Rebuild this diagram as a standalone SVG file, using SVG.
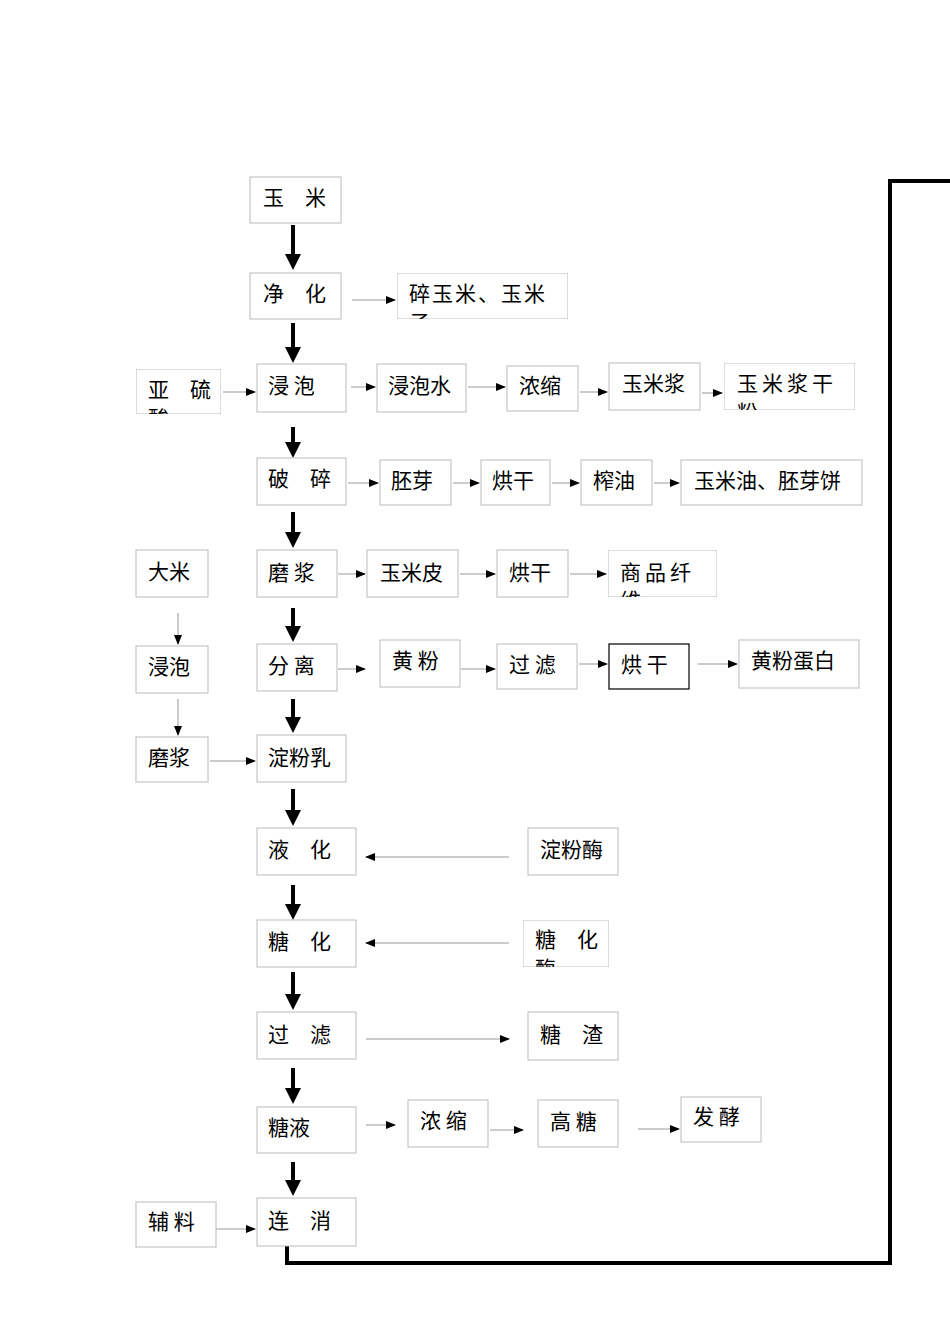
<svg xmlns="http://www.w3.org/2000/svg" width="950" height="1344" viewBox="0 0 950 1344">
<style>
rect.b{fill:#fff;stroke:#bbb;stroke-width:1}
text{font-family:"Noto Sans CJK SC","Liberation Serif",serif;font-size:21px;fill:#000}
.t{stroke:#000;stroke-width:4;fill:none}
.n{stroke:#999;stroke-width:1;fill:none}
</style>
<defs>
<marker id="tk" markerWidth="4" markerHeight="4" refX="2" refY="2" orient="auto" markerUnits="strokeWidth"><path d="M0,0L4,2L0,4z" fill="#000"/></marker>
<marker id="th" markerWidth="10" markerHeight="10" refX="9" refY="5" orient="auto" markerUnits="userSpaceOnUse"><path d="M0,1L10,5L0,9z" fill="#000"/></marker>
<clipPath id="c1"><rect x="397" y="273" width="171" height="46"/></clipPath>
<clipPath id="c2"><rect x="136" y="369" width="85" height="45"/></clipPath>
<clipPath id="c3"><rect x="724" y="363" width="131" height="47"/></clipPath>
<clipPath id="c4"><rect x="608" y="550" width="109" height="47"/></clipPath>
<clipPath id="c5"><rect x="523" y="920" width="86" height="47"/></clipPath>
</defs>
<g id="connectors">
<g class="t" marker-end="url(#tk)">
<path d="M293,225V262"/><path d="M293,323V355"/><path d="M293,427V450"/><path d="M293,512V540"/><path d="M293,608V634"/><path d="M293,699V725"/><path d="M293,789V818"/><path d="M293,885V912"/><path d="M293,972V1002"/><path d="M293,1068V1096"/><path d="M293,1162V1188"/>
</g>
<path d="M287,1246V1263H890V181H950" stroke="#000" stroke-width="4" fill="none"/>
<g class="n" marker-end="url(#th)">
<path d="M352,300H395"/><path d="M223,392H255"/><path d="M351,387H375"/><path d="M468,387H505"/><path d="M580,392H607"/><path d="M702,393H722"/>
<path d="M348,483H378"/><path d="M453,483H479"/><path d="M552,483H579"/><path d="M654,483H679"/>
<path d="M338,574H365"/><path d="M460,574H495"/><path d="M570,574H606"/>
<path d="M338,669H365"/><path d="M461,669H495"/><path d="M579,664H607"/><path d="M698,664H737"/>
<path d="M178,613V644"/><path d="M178,699V735"/><path d="M210,761H255"/>
<path d="M509,857H366"/><path d="M509,943H366"/><path d="M366,1039H509"/>
<path d="M366,1125H395"/><path d="M490,1130H523"/><path d="M638,1129H679"/><path d="M216,1229H255"/>
</g>
</g>
<g id="n1"><rect class="b" x="250" y="177" width="91" height="46"/><text x="263" y="205">玉　米</text></g>
<g id="n2"><rect class="b" x="250" y="273" width="91" height="46"/><text x="263" y="301">净　化</text></g>
<g id="n3" clip-path="url(#c1)"><rect class="b" x="397" y="273" width="171" height="46"/><text x="409" y="301" letter-spacing="2">碎玉米、玉米</text><text x="409" y="330">子</text></g>
<g id="n4" clip-path="url(#c2)"><rect class="b" x="136" y="369" width="85" height="45"/><text x="148" y="397">亚　硫</text><text x="148" y="426">酸</text></g>
<g id="n5"><rect class="b" x="257" y="364" width="89" height="48"/><text x="268" y="393">浸 泡</text></g>
<g id="n6"><rect class="b" x="377" y="364" width="89" height="48"/><text x="388" y="393">浸泡水</text></g>
<g id="n7"><rect class="b" x="507" y="366" width="71" height="45"/><text x="519" y="393">浓缩</text></g>
<g id="n8"><rect class="b" x="609" y="363" width="91" height="47"/><text x="622" y="391">玉米浆</text></g>
<g id="n9" clip-path="url(#c3)"><rect class="b" x="724" y="363" width="131" height="47"/><text x="737" y="391" letter-spacing="4">玉米浆干</text><text x="737" y="420">粉</text></g>
<g id="n10"><rect class="b" x="257" y="458" width="89" height="47"/><text x="268" y="486">破　碎</text></g>
<g id="n11"><rect class="b" x="380" y="460" width="71" height="45"/><text x="391" y="488">胚芽</text></g>
<g id="n12"><rect class="b" x="481" y="460" width="69" height="45"/><text x="492" y="488">烘干</text></g>
<g id="n13"><rect class="b" x="581" y="460" width="71" height="45"/><text x="593" y="488">榨油</text></g>
<g id="n14"><rect class="b" x="681" y="460" width="181" height="45"/><text x="694" y="488">玉米油、胚芽饼</text></g>
<g id="n15"><rect class="b" x="136" y="550" width="72" height="47"/><text x="148" y="579">大米</text></g>
<g id="n16"><rect class="b" x="257" y="550" width="80" height="47"/><text x="268" y="580">磨 浆</text></g>
<g id="n17"><rect class="b" x="367" y="550" width="91" height="47"/><text x="380" y="580">玉米皮</text></g>
<g id="n18"><rect class="b" x="497" y="550" width="71" height="47"/><text x="509" y="580">烘干</text></g>
<g id="n19" clip-path="url(#c4)"><rect class="b" x="608" y="550" width="109" height="47"/><text x="620" y="580" letter-spacing="4">商品纤</text><text x="620" y="608">维</text></g>
<g id="n20"><rect class="b" x="136" y="646" width="72" height="47"/><text x="148" y="674">浸泡</text></g>
<g id="n21"><rect class="b" x="257" y="644" width="80" height="47"/><text x="268" y="673">分 离</text></g>
<g id="n22"><rect class="b" x="380" y="640" width="80" height="47"/><text x="392" y="668">黄 粉</text></g>
<g id="n23"><rect class="b" x="497" y="644" width="80" height="45"/><text x="509" y="672">过 滤</text></g>
<g id="n24"><rect x="609" y="644" width="80" height="45" fill="#fff" stroke="#000" stroke-width="1.2"/><text x="621" y="672">烘 干</text></g>
<g id="n25"><rect class="b" x="739" y="640" width="120" height="48"/><text x="751" y="668">黄粉蛋白</text></g>
<g id="n26"><rect class="b" x="136" y="737" width="72" height="45"/><text x="148" y="765">磨浆</text></g>
<g id="n27"><rect class="b" x="257" y="735" width="89" height="47"/><text x="268" y="765">淀粉乳</text></g>
<g id="n28"><rect class="b" x="257" y="828" width="99" height="47"/><text x="268" y="857">液　化</text></g>
<g id="n29"><rect class="b" x="528" y="828" width="90" height="47"/><text x="540" y="857">淀粉酶</text></g>
<g id="n30"><rect class="b" x="257" y="920" width="99" height="47"/><text x="268" y="949">糖　化</text></g>
<g id="n31" clip-path="url(#c5)"><rect class="b" x="523" y="920" width="86" height="47"/><text x="535" y="947">糖　化</text><text x="535" y="976">酶</text></g>
<g id="n32"><rect class="b" x="257" y="1012" width="99" height="47"/><text x="268" y="1042">过　滤</text></g>
<g id="n33"><rect class="b" x="528" y="1012" width="90" height="48"/><text x="540" y="1042">糖　渣</text></g>
<g id="n34"><rect class="b" x="257" y="1107" width="99" height="46"/><text x="268" y="1135">糖液</text></g>
<g id="n35"><rect class="b" x="408" y="1100" width="80" height="47"/><text x="420" y="1128">浓 缩</text></g>
<g id="n36"><rect class="b" x="538" y="1100" width="80" height="47"/><text x="550" y="1129">高 糖</text></g>
<g id="n37"><rect class="b" x="681" y="1097" width="80" height="45"/><text x="693" y="1124">发 酵</text></g>
<g id="n38"><rect class="b" x="136" y="1202" width="80" height="45"/><text x="148" y="1229">辅 料</text></g>
<g id="n39"><rect class="b" x="257" y="1198" width="99" height="48"/><text x="268" y="1228">连　消</text></g>
</svg>
